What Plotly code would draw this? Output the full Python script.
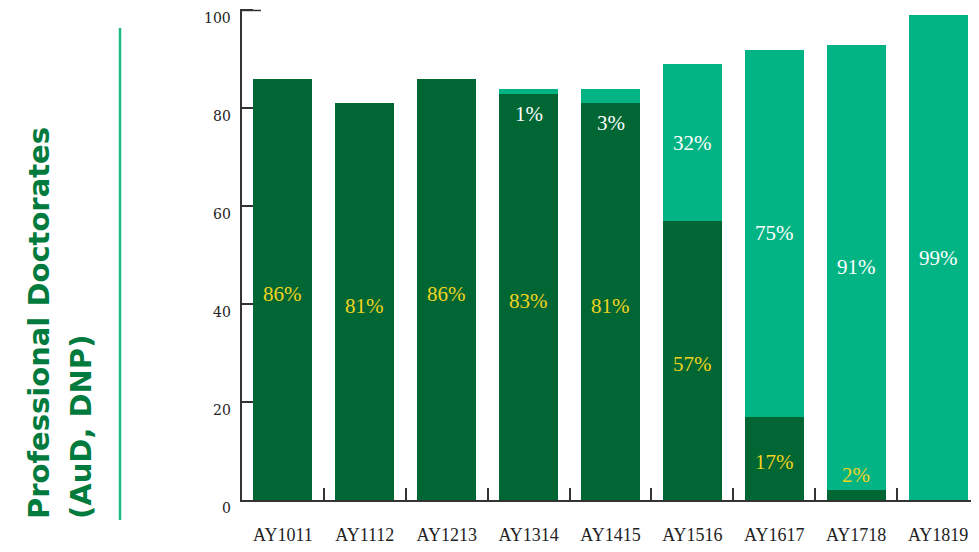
import plotly.graph_objects as go

categories = ["AY1011", "AY1112", "AY1213", "AY1314", "AY1415",
              "AY1516", "AY1617", "AY1718", "AY1819"]
dark_values = [86, 81, 86, 83, 81, 57, 17, 2, 0]
light_values = [0, 0, 0, 1, 3, 32, 75, 91, 99]
y_ticks = [0, 20, 40, 60, 80, 100]
title_lines = ["Professional Doctorates", "(AuD, DNP)"]

DARK = "#006633"
LIGHT = "#02B483"
YELLOW = "#F0D41E"
OFF = 8                      # page body margin
W, H = 979 - OFF, 552 - OFF
ML, MR, MT, MB = 242 - OFF, 0, 1, 52

fig = go.Figure()
fig.add_trace(go.Bar(x=categories, y=dark_values, marker_color=DARK,
                     marker_line_width=0, hoverinfo="skip"))
fig.add_trace(go.Bar(x=categories, y=light_values, marker_color=LIGHT,
                     marker_line_width=0, hoverinfo="skip"))

label_font = dict(family="Liberation Serif", size=21)
for c, d, l in zip(categories, dark_values, light_values):
    if d > 0:
        if d >= 10:
            fig.add_annotation(x=c, y=d / 2, text=f"{d}%", showarrow=False,
                               yshift=-4, font=dict(color=YELLOW, **label_font))
        else:
            fig.add_annotation(x=c, y=d, text=f"{d}%", showarrow=False,
                               yanchor="bottom", yshift=1,
                               font=dict(color=YELLOW, **label_font))
    if l > 0:
        if l >= 10:
            fig.add_annotation(x=c, y=d + l / 2, text=f"{l}%", showarrow=False,
                               yshift=0, font=dict(color="white", **label_font))
        else:
            fig.add_annotation(x=c, y=d, text=f"{l}%", showarrow=False,
                               yanchor="top", yshift=-6,
                               font=dict(color="white", **label_font))

# y tick labels (drawn as text, shifted below their ticks as in the reference)
for v in y_ticks:
    fig.add_annotation(xref="paper", yref="y", x=0, y=v, text=str(v),
                       showarrow=False, xanchor="right", xshift=-9, yshift=-8,
                       font=dict(family="DejaVu Serif", size=14, color="#222"))

pw = W - ML - MR
ph = H - MT - MB


def px(xp):
    return (xp - OFF - ML) / pw


def py(yp):
    return (H - MB - (yp - OFF)) / ph


# y-axis title (rotated, two lines)
for txt, xc in zip(title_lines, [39, 81]):
    fig.add_annotation(xref="paper", yref="paper", x=px(xc), y=py(521),
                       text=txt, textangle=-90, showarrow=False,
                       xanchor="center", yanchor="bottom",
                       font=dict(family="DejaVu Sans", size=29, color="#007A3D",
                                 weight="bold"))
# vertical accent line
fig.add_shape(type="line", xref="paper", yref="paper",
              x0=px(120), x1=px(120), y0=py(520), y1=py(28),
              line=dict(color="#1DB98A", width=2.5))
# longer cap tick at the top of the value axis
fig.add_shape(type="line", xref="paper", yref="y",
              x0=0, x1=px(261), y0=y_ticks[-1], y1=y_ticks[-1],
              line=dict(color="#333", width=1.5))

fig.update_layout(
    width=W, height=H, barmode="stack", bargap=0.28, showlegend=False,
    plot_bgcolor="white", paper_bgcolor="white",
    margin=dict(l=ML, r=MR, t=MT, b=MB, autoexpand=False),
    xaxis=dict(type="category", tickson="boundaries", ticks="inside", ticklen=12,
               tickwidth=1.5, tickcolor="#333", showline=True, linecolor="#333",
               linewidth=1.5, showgrid=False, ticklabelstandoff=18, automargin=False,
               tickfont=dict(family="Liberation Serif", size=18, color="#222")),
    yaxis=dict(range=[0, 100.3], tickvals=y_ticks, ticks="inside", ticklen=11,
               tickwidth=1.5, tickcolor="#333", showline=True, linecolor="#333",
               linewidth=1.5, showgrid=False, zeroline=False, automargin=False,
               showticklabels=False),
)

fig.write_html("out.html")
